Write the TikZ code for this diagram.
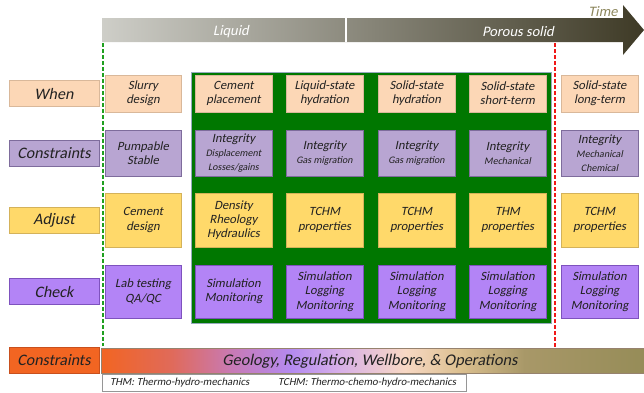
\documentclass[tikz,border=0pt]{standalone}
\usepackage{fontspec}
\setmainfont{Carlito}[AutoFakeSlant=0.2]
\definecolor{peachfill}{HTML}{FCD7B6}
\definecolor{peachdraw}{HTML}{D9B89A}
\definecolor{lavfill}{HTML}{B8A5D2}
\definecolor{lavdraw}{HTML}{7E6C9C}
\definecolor{goldfill}{HTML}{FFD96A}
\definecolor{golddraw}{HTML}{D4B25A}
\definecolor{violfill}{HTML}{B384F6}
\definecolor{violdraw}{HTML}{7E52BE}
\definecolor{framegreen}{HTML}{007700}
\definecolor{frameedge}{HTML}{96AABE}
\definecolor{timecol}{HTML}{8C865C}
\definecolor{txt}{HTML}{222222}
\definecolor{arrowlight}{HTML}{CECEC8}
\definecolor{arrowdark}{HTML}{3E3A26}
\definecolor{liquidedge}{HTML}{20A020}
\definecolor{solidedge}{HTML}{F01818}
\definecolor{extorange}{HTML}{F26522}
\definecolor{extorangedraw}{HTML}{C8501E}
\definecolor{extdraw}{HTML}{96826E}
\definecolor{abbrdraw}{HTML}{969696}
\definecolor{gA}{HTML}{F26522}
\definecolor{gB}{HTML}{E06A5A}
\definecolor{gC}{HTML}{C87AB4}
\definecolor{gD}{HTML}{B48AF0}
\definecolor{gE}{HTML}{D8B0E8}
\definecolor{gF}{HTML}{F8D8C4}
\definecolor{gG}{HTML}{DCC090}
\definecolor{gH}{HTML}{A89868}
\definecolor{gI}{HTML}{968C58}
\pgfdeclarehorizontalshading{basebar}{100bp}{%
  color(0bp)=(gA); color(25bp)=(gA);
  color(31.5bp)=(gB); color(37bp)=(gC); color(42.5bp)=(gD);
  color(47bp)=(gE); color(53bp)=(gF); color(58bp)=(gG);
  color(64bp)=(gH); color(75bp)=(gI); color(100bp)=(gI)}
\newcommand{\smalltxt}[1]{{\fontsize{10}{12}\selectfont #1}}
\begin{document}
\begin{tikzpicture}[x=1pt,y=-1pt,
  cellbase/.style={rectangle, line width=0.9pt, inner sep=1pt, align=center,
    text=txt, font=\fontsize{12.6}{14.2}\selectfont\itshape, minimum width=77pt},
  whenbox/.style={cellbase, fill=peachfill, draw=peachdraw, minimum height=37pt},
  conbox/.style={cellbase, fill=lavfill, draw=lavdraw, minimum height=46pt},
  adjbox/.style={cellbase, fill=goldfill, draw=golddraw, minimum height=54pt},
  chkbox/.style={cellbase, fill=violfill, draw=violdraw, minimum height=53pt},
  rowlabel/.style={rectangle, line width=0.9pt, inner sep=1pt, text=txt,
    font=\fontsize{16}{18}\selectfont\itshape, minimum width=90pt, minimum height=26pt},
  phaselabel/.style={text=white, font=\fontsize{14.5}{16}\selectfont\itshape, inner sep=0pt},
  notetext/.style={anchor=west, text=txt, font=\fontsize{10.8}{12}\selectfont\itshape, inner sep=0pt},
  edgeline/.style={line width=2pt, dash pattern=on 4pt off 2pt}
]
\useasboundingbox (0,0) rectangle (644,392);

% time arrow
\shade[left color=arrowlight, right color=arrowdark]
  (102,18) -- (623,18) -- (623,5) -- (644,30) -- (623,55) -- (623,42) -- (102,42) -- cycle;
\draw[white, line width=1.6pt] (346,18) -- (346,42);
\node[phaselabel] (liquid) at (231,32) {Liquid};
\node[phaselabel] (porous) at (518,32) {Porous solid};
\node[text=timecol, font=\fontsize{14.5}{16}\selectfont\itshape, inner sep=0pt] (time) at (603,12) {Time};

% core frame
\node[rectangle, fill=framegreen, draw=frameedge, line width=0.6pt,
  minimum width=360pt, minimum height=251pt, inner sep=0pt] (core) at (371,197.5) {};

% phase boundaries
\coordinate (gtop) at (103,43);
\coordinate (gbot) at (103,346);
\coordinate (rtop) at (555,43);
\coordinate (rbot) at (555,348);
\draw[edgeline, draw=liquidedge] (gtop) -- (gbot);
\draw[edgeline, draw=solidedge] (rtop) -- (rbot);

% row labels
\node[rowlabel, fill=peachfill, draw=peachdraw] (lwhen) at (54,93.5) {When};
\node[rowlabel, fill=lavfill, draw=lavdraw] (lcon) at (54,153) {Constraints};
\node[rowlabel, fill=goldfill, draw=golddraw] (ladj) at (54,220.5) {Adjust};
\node[rowlabel, fill=violfill, draw=violdraw] (lchk) at (54,291.5) {Check};

% row: when
\node[whenbox, minimum width=76pt] (w1) at (143,93.5) {Slurry\\design};
\node[whenbox] (w2) at (233.5,93.5) {Cement\\placement};
\node[whenbox] (w3) at (324.5,93.5) {Liquid-state\\hydration};
\node[whenbox] (w4) at (416.5,93.5) {Solid-state\\hydration};
\node[whenbox] (w5) at (507.5,93.5) {Solid-state\\short-term};
\node[whenbox] (w6) at (599.5,93.5) {Solid-state\\long-term};

% row: constraints
\node[conbox, minimum width=76pt] (k1) at (143,153) {Pumpable\\Stable};
\node[conbox] (k2) at (233.5,153) {Integrity\\\smalltxt{Displacement}\\\smalltxt{Losses/gains}};
\node[conbox] (k3) at (324.5,153) {Integrity\\\smalltxt{Gas migration}};
\node[conbox] (k4) at (416.5,153) {Integrity\\\smalltxt{Gas migration}};
\node[conbox] (k5) at (507.5,153) {Integrity\\\smalltxt{Mechanical}};
\node[conbox] (k6) at (599.5,153) {Integrity\\\smalltxt{Mechanical}\\\smalltxt{Chemical}};

% row: adjust
\node[adjbox, minimum width=76pt] (a1) at (143,220) {Cement\\design};
\node[adjbox] (a2) at (233.5,220) {Density\\Rheology\\Hydraulics};
\node[adjbox] (a3) at (324.5,220) {TCHM\\properties};
\node[adjbox] (a4) at (416.5,220) {TCHM\\properties};
\node[adjbox] (a5) at (507.5,220) {THM\\properties};
\node[adjbox] (a6) at (599.5,220) {TCHM\\properties};

% row: check
\node[chkbox, minimum width=76pt] (c1) at (143,291.5) {Lab testing\\QA/QC};
\node[chkbox] (c2) at (233.5,291.5) {Simulation\\Monitoring};
\node[chkbox] (c3) at (324.5,291.5) {Simulation\\Logging\\Monitoring};
\node[chkbox] (c4) at (416.5,291.5) {Simulation\\Logging\\Monitoring};
\node[chkbox] (c5) at (507.5,291.5) {Simulation\\Logging\\Monitoring};
\node[chkbox] (c6) at (599.5,291.5) {Simulation\\Logging\\Monitoring};

% external constraints
\node[rowlabel, fill=extorange, draw=extorangedraw] (lext) at (54,360.5) {Constraints};
\node[rectangle, shading=basebar, draw=extdraw, line width=0.6pt,
  minimum width=543pt, minimum height=25pt, inner sep=0pt] (ext) at (372.5,360.5) {};
\node[text=txt, font=\fontsize{16.3}{18}\selectfont\itshape, inner sep=0pt] (exttext) at (370,361) {Geology, Regulation, Wellbore, \& Operations};

% abbreviations
\node[rectangle, fill=white, draw=abbrdraw, line width=1pt,
  minimum width=364pt, minimum height=17pt, inner sep=0pt] (abbr) at (284,382.5) {};
\node[notetext] (thm) at (110,382.5) {THM: Thermo-hydro-mechanics};
\node[notetext] (tchm) at (278,382.5) {TCHM: Thermo-chemo-hydro-mechanics};
\end{tikzpicture}
\end{document}
